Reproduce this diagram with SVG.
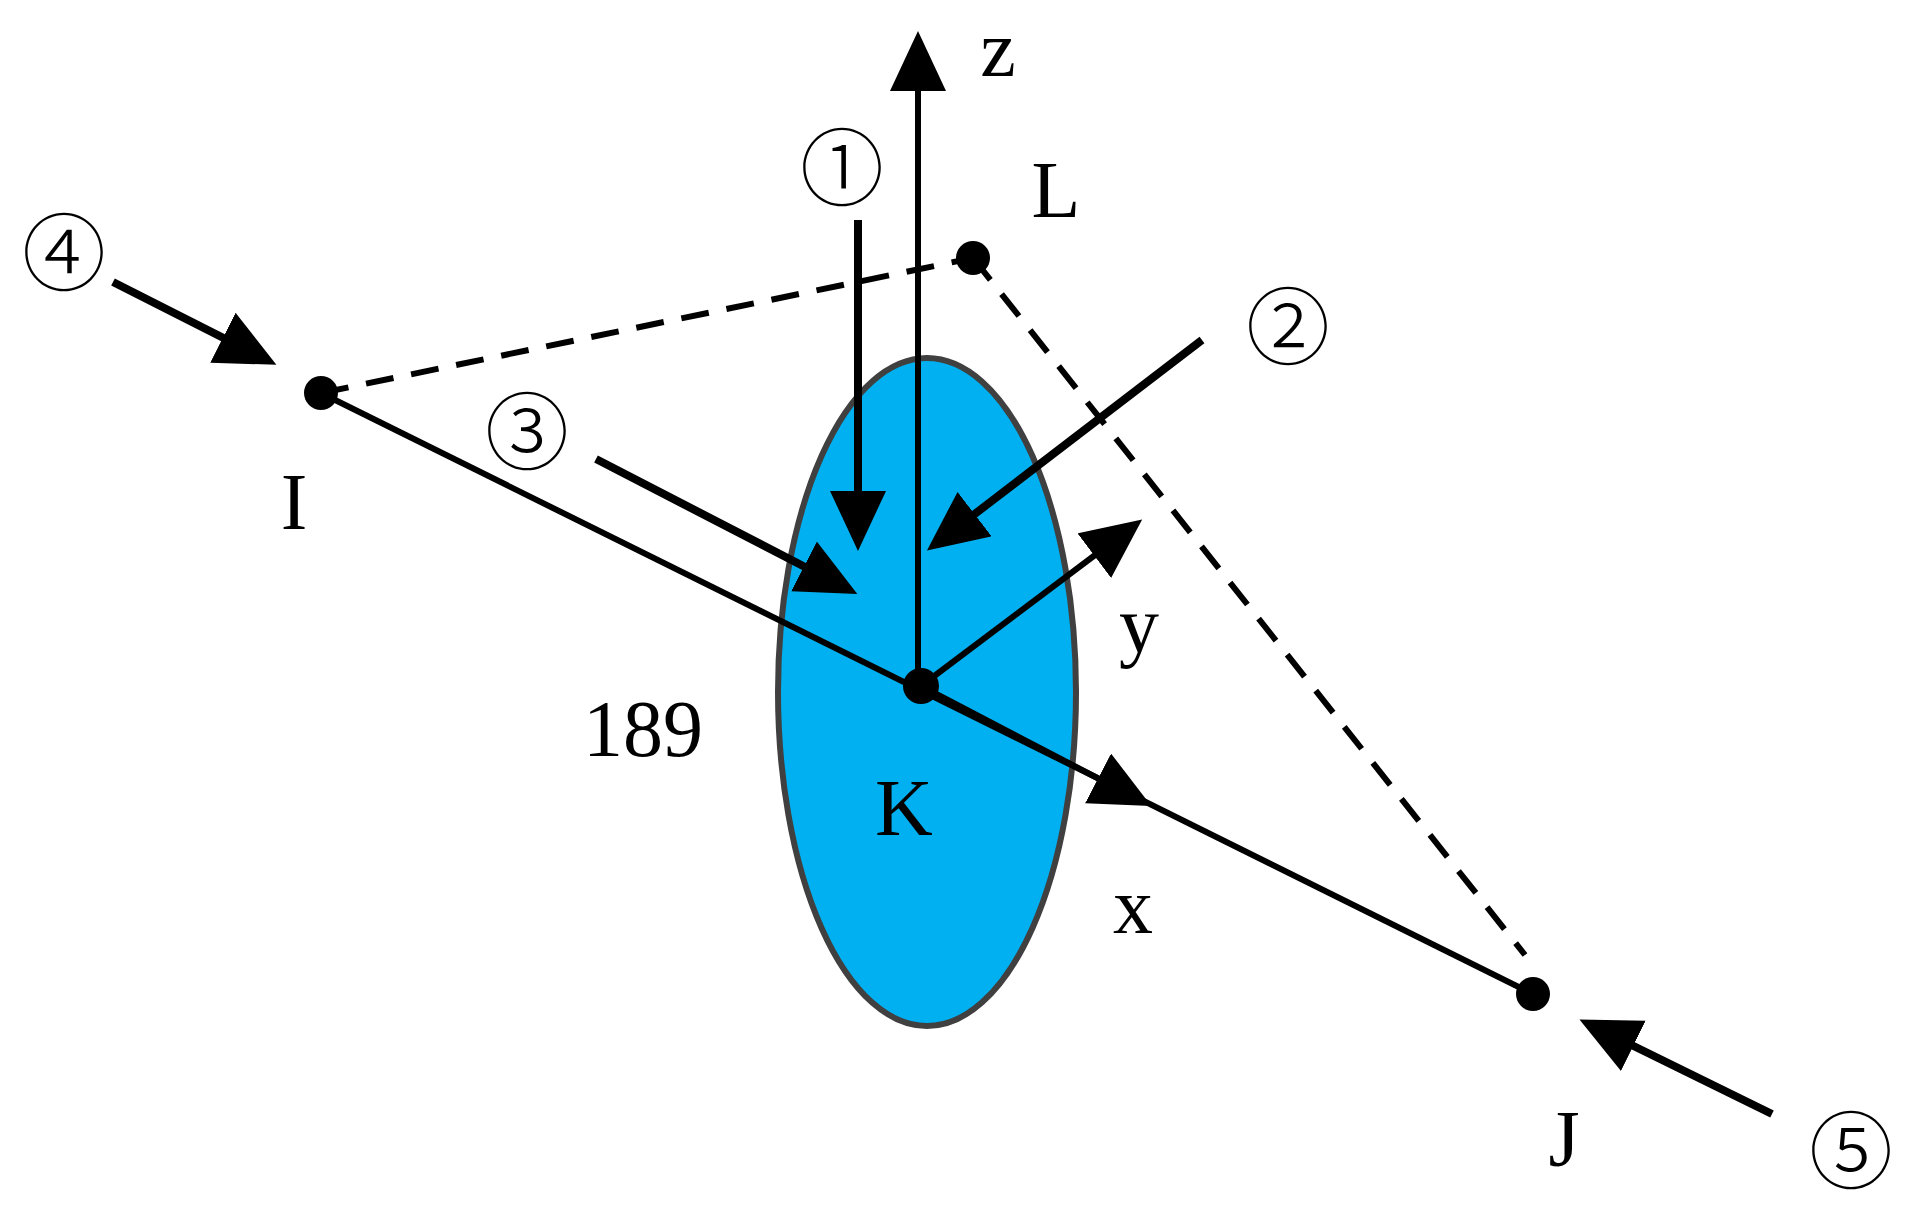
<svg xmlns="http://www.w3.org/2000/svg" width="1920" height="1211" viewBox="0 0 1920 1211">
<style>
text{font-family:"Liberation Serif","DejaVu Serif",serif;font-size:80px;fill:#000;text-anchor:middle;dominant-baseline:central}
text.c{font-family:"Noto Sans CJK SC","DejaVu Sans",sans-serif;font-size:84px;font-weight:300}
.ax{stroke:#000;stroke-width:6;fill:none}
.ld{stroke:#000;stroke-width:8;fill:none}
.ds{stroke:#000;stroke-width:6;fill:none;stroke-dasharray:28 18}
</style>
<defs>
<marker id="ah" markerUnits="userSpaceOnUse" markerWidth="64" markerHeight="60" refX="36" refY="28" orient="auto" viewBox="0 0 64 60">
<path d="M0,0 L60,28 L0,56 z" fill="#000"/>
</marker>
</defs>
<rect width="1920" height="1211" fill="#fff"/>
<g id="disk"><ellipse cx="927" cy="692" rx="149" ry="334" fill="#00b0f0" stroke="#404040" stroke-width="6"/></g>
<g id="connectors">
<line class="ds" x1="321" y1="393" x2="973" y2="258"/>
<line class="ds" x1="973" y1="258" x2="1525" y2="955"/>
<line class="ax" x1="321" y1="393" x2="1533" y2="994"/>
<line class="ax" x1="921" y1="686" x2="1130" y2="795" marker-end="url(#ah)"/>
<line class="ax" x1="918" y1="686" x2="918" y2="55" marker-end="url(#ah)"/>
<line class="ax" x1="921" y1="686" x2="1123" y2="534" marker-end="url(#ah)"/>
<line class="ld" x1="858" y1="220" x2="858" y2="527" marker-end="url(#ah)"/>
<line class="ld" x1="1202" y1="340" x2="946" y2="536" marker-end="url(#ah)"/>
<line class="ld" x1="596" y1="459" x2="836" y2="583" marker-end="url(#ah)"/>
<line class="ld" x1="113" y1="282" x2="255" y2="354" marker-end="url(#ah)"/>
<line class="ld" x1="1772" y1="1114" x2="1601" y2="1030" marker-end="url(#ah)"/>
</g>
<g id="I"><circle cx="321" cy="393" r="17"/><text x="294" y="502">I</text></g>
<g id="L"><circle cx="973" cy="258" r="17"/><text x="1056" y="190">L</text></g>
<g id="J"><circle cx="1533" cy="994" r="17"/><text x="1564" y="1139">J</text></g>
<g id="K"><circle cx="921" cy="686" r="18"/><text x="904" y="808">K</text></g>
<g id="labels">
<text x="998" y="49">z</text>
<text x="1139" y="625">y</text>
<text x="1133" y="906">x</text>
<text x="643" y="729">189</text>
<text class="c" x="842" y="162">①</text>
<text class="c" x="1288" y="321">②</text>
<text class="c" x="527" y="426">③</text>
<text class="c" x="64" y="247">④</text>
<text class="c" x="1851" y="1145">⑤</text>
</g>
</svg>
